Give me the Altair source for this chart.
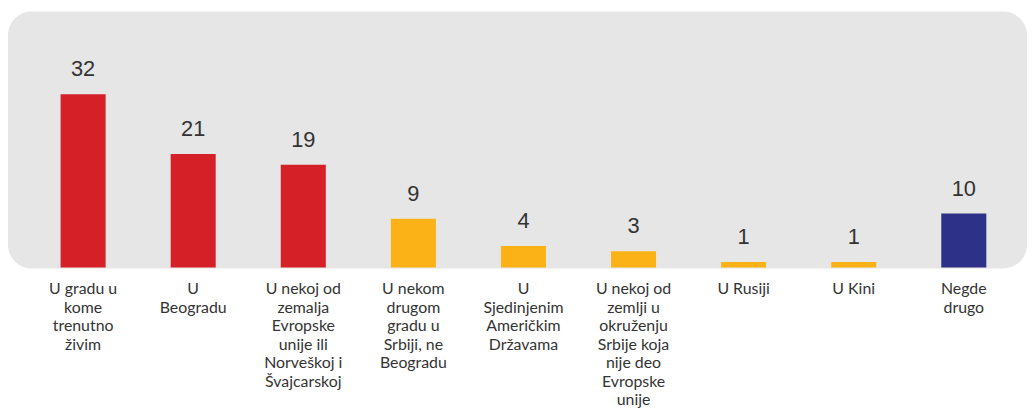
import altair as alt
import pandas as pd

categories = [
    "U gradu u\nkome\ntrenutno\nživim",
    "U\nBeogradu",
    "U nekoj od\nzemalja\nEvropske\nunije ili\nNorveškoj i\nŠvajcarskoj",
    "U nekom\ndrugom\ngradu u\nSrbiji, ne\nBeogradu",
    "U\nSjedinjenim\nAmeričkim\nDržavama",
    "U nekoj od\nzemlji u\nokruženju\nSrbije koja\nnije deo\nEvropske\nunije",
    "U Rusiji",
    "U Kini",
    "Negde\ndrugo",
]
values = [32, 21, 19, 9, 4, 3, 1, 1, 10]
colors = ["#D52027", "#D52027", "#D52027", "#FBB216", "#FBB216", "#FBB216",
          "#FBB216", "#FBB216", "#2E3188"]

df = pd.DataFrame({
    "cat": categories,
    "val": values,
    "col": colors,
})

W = 1027
H = 260

x = alt.X("cat:N", sort=categories, axis=None,
          scale=alt.Scale(range=[53, 986], paddingInner=0.5909, paddingOuter=0))
y = alt.Y("val:Q", axis=None, scale=alt.Scale(domain=[0, 47.67], nice=False, zero=True))

bg = alt.Chart(pd.DataFrame({"a": [0]})).mark_rect(
    color="#E6E6E6", cornerRadius=24
).encode(
    x=alt.value(0), x2=alt.value(W), y=alt.value(2), y2=alt.value(261)
)

base = alt.Chart(df)

bars = base.mark_bar().encode(
    x=x, y=y, color=alt.Color("col:N", scale=None)
)

vals = base.mark_text(
    font="Liberation Sans", fontSize=22, color="#333333",
    baseline="alphabetic", dy=-18, align="center"
).encode(x=x, y=y, text="val:Q")

labels = base.mark_text(
    font="Lato", fontSize=16, color="#333333", baseline="top",
    align="center", lineBreak="\n", lineHeight=18.6
).encode(x=x, y=alt.value(274), text="cat:N")

chart = alt.layer(bg, bars, vals, labels).properties(
    width=W, height=H,
    autosize=alt.AutoSizeParams(type="none"),
    padding={"left": 0, "top": 0, "right": 0, "bottom": 140},
).configure_view(stroke=None)

chart.save("out.html", embed_options={"renderer": "svg", "actions": False})
